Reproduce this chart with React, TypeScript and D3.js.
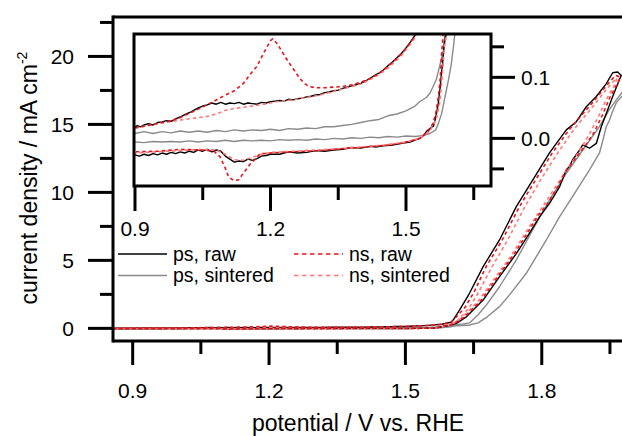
import React from "react";
import * as d3 from "d3";

type P = [number, number];

// ps, raw (black) – closed CV loop, potential (V vs RHE), current density (mA cm^-2)
const psRaw: P[] = [
  [0.857, 0.016], [0.87, 0.018], [0.88, 0.017], [0.89, 0.019], [0.9, 0.018], [0.905, 0.021], [0.912, 0.019],
  [0.92, 0.022], [0.93, 0.024], [0.94, 0.022], [0.95, 0.026], [0.96, 0.027], [0.97, 0.029], [0.98, 0.028],
  [0.99, 0.032], [1.0, 0.035], [1.01, 0.039], [1.02, 0.042], [1.03, 0.046], [1.04, 0.05], [1.05, 0.053],
  [1.06, 0.055], [1.07, 0.058], [1.08, 0.056], [1.09, 0.059], [1.1, 0.056], [1.11, 0.058], [1.12, 0.057],
  [1.13, 0.059], [1.14, 0.056], [1.15, 0.058], [1.16, 0.057], [1.17, 0.056], [1.18, 0.059], [1.19, 0.058],
  [1.2, 0.06], [1.21, 0.061], [1.22, 0.062], [1.23, 0.061], [1.24, 0.064], [1.25, 0.063], [1.26, 0.065],
  [1.27, 0.066], [1.28, 0.068], [1.29, 0.069], [1.3, 0.071], [1.31, 0.072], [1.32, 0.075], [1.33, 0.076],
  [1.34, 0.078], [1.35, 0.079], [1.36, 0.082], [1.37, 0.084], [1.38, 0.086], [1.39, 0.088], [1.4, 0.09],
  [1.41, 0.094], [1.42, 0.098], [1.43, 0.103], [1.44, 0.107], [1.45, 0.112], [1.46, 0.119], [1.47, 0.125],
  [1.48, 0.132], [1.49, 0.139], [1.5, 0.148], [1.51, 0.158], [1.52, 0.169], [1.53, 0.185], [1.55, 0.22],
  [1.58, 0.3], [1.6, 0.45], [1.605, 0.61], [1.62, 1.4], [1.641, 2.58], [1.671, 4.54], [1.707, 6.5],
  [1.744, 8.95], [1.78, 10.9], [1.817, 12.9], [1.854, 14.6], [1.876, 15.2], [1.898, 16.3], [1.92, 17.05],
  [1.942, 18.0], [1.956, 18.8], [1.967, 18.85], [1.975, 18.6], [1.971, 18.3], [1.956, 17.05], [1.942, 15.8],
  [1.931, 14.85], [1.92, 13.6], [1.905, 13.25], [1.89, 13.5], [1.883, 13.1], [1.868, 12.4], [1.861, 11.9],
  [1.854, 11.66], [1.839, 10.4], [1.817, 9.2], [1.795, 8.2], [1.773, 7.0], [1.744, 5.5], [1.707, 3.8],
  [1.671, 2.08], [1.634, 0.85], [1.612, 0.37], [1.595, 0.2], [1.585, 0.16], [1.582, 0.13], [1.579, 0.11],
  [1.575, 0.079], [1.571, 0.055], [1.566, 0.035], [1.561, 0.02], [1.553, 0.016], [1.546, 0.012], [1.538, 0.004],
  [1.531, 0.0], [1.52, -0.003], [1.509, -0.006], [1.49, -0.008], [1.47, -0.011], [1.45, -0.012], [1.435, -0.014],
  [1.42, -0.013], [1.4, -0.016], [1.38, -0.015], [1.36, -0.018], [1.34, -0.019], [1.32, -0.021], [1.3, -0.02],
  [1.28, -0.023], [1.26, -0.024], [1.24, -0.022], [1.22, -0.026], [1.2, -0.026], [1.19, -0.028], [1.18, -0.029],
  [1.17, -0.033], [1.16, -0.036], [1.15, -0.034], [1.14, -0.038], [1.13, -0.037], [1.12, -0.039], [1.11, -0.034],
  [1.1, -0.029], [1.09, -0.021], [1.08, -0.019], [1.07, -0.022], [1.06, -0.018], [1.05, -0.021], [1.04, -0.019],
  [1.03, -0.023], [1.02, -0.021], [1.01, -0.024], [1.0, -0.022], [0.99, -0.025], [0.98, -0.023], [0.97, -0.026],
  [0.96, -0.024], [0.95, -0.027], [0.94, -0.025], [0.93, -0.028], [0.92, -0.026], [0.91, -0.029], [0.9, -0.027],
  [0.89, -0.028], [0.87, -0.027], [0.857, -0.028],
];

// ps, sintered (grey)
const psSintered: P[] = [
  [0.857, 0.007], [0.88, 0.009], [0.9, 0.008], [0.92, 0.011], [0.94, 0.008], [0.96, 0.011], [0.98, 0.009],
  [1.0, 0.012], [1.02, 0.01], [1.04, 0.012], [1.06, 0.01], [1.08, 0.013], [1.1, 0.011], [1.12, 0.014],
  [1.14, 0.012], [1.16, 0.014], [1.18, 0.013], [1.2, 0.015], [1.22, 0.013], [1.24, 0.016], [1.26, 0.015],
  [1.28, 0.017], [1.3, 0.016], [1.32, 0.019], [1.34, 0.019], [1.36, 0.021], [1.38, 0.023], [1.4, 0.026],
  [1.42, 0.029], [1.44, 0.031], [1.46, 0.037], [1.48, 0.04], [1.5, 0.045], [1.52, 0.053], [1.53, 0.06],
  [1.545, 0.067], [1.553, 0.074], [1.56, 0.085], [1.567, 0.096], [1.575, 0.12], [1.583, 0.145], [1.59, 0.17],
  [1.6, 0.2], [1.615, 0.28], [1.627, 0.33], [1.641, 0.4], [1.66, 1.0], [1.68, 1.8], [1.707, 3.06],
  [1.744, 5.03], [1.78, 7.24], [1.817, 9.45], [1.854, 11.4], [1.89, 13.1], [1.927, 14.85], [1.949, 16.1],
  [1.964, 16.8], [1.98, 17.5], [1.99, 17.9], [1.995, 17.7], [1.985, 17.3], [1.976, 17.05], [1.964, 16.6],
  [1.955, 15.9], [1.949, 15.3], [1.942, 14.85], [1.935, 13.9], [1.927, 12.9], [1.905, 11.66], [1.868, 9.7],
  [1.839, 8.2], [1.81, 6.5], [1.766, 4.05], [1.73, 2.5], [1.707, 1.6], [1.68, 0.85], [1.66, 0.4],
  [1.641, 0.25], [1.625, 0.21], [1.612, 0.19], [1.608, 0.17], [1.605, 0.15], [1.6, 0.12], [1.594, 0.096],
  [1.587, 0.07], [1.579, 0.041], [1.572, 0.025], [1.566, 0.014], [1.553, 0.008], [1.54, 0.005], [1.52, 0.003],
  [1.5, 0.004], [1.48, 0.002], [1.46, 0.003], [1.44, 0.001], [1.42, 0.002], [1.4, 0.0], [1.38, 0.001],
  [1.36, -0.001], [1.34, 0.0], [1.32, -0.002], [1.3, -0.001], [1.28, -0.003], [1.26, -0.002], [1.24, -0.003],
  [1.22, -0.002], [1.2, -0.004], [1.18, -0.003], [1.16, -0.004], [1.14, -0.003], [1.12, -0.005], [1.1, -0.003],
  [1.08, -0.005], [1.06, -0.004], [1.04, -0.006], [1.02, -0.004], [1.0, -0.006], [0.98, -0.005], [0.96, -0.006],
  [0.94, -0.005], [0.92, -0.007], [0.9, -0.006], [0.857, -0.006],
];

// ns, raw (red dashed)
const nsRaw: P[] = [
  [0.857, 0.015], [0.9, 0.017], [0.92, 0.02], [0.94, 0.023], [0.96, 0.026], [0.98, 0.029], [1.0, 0.034],
  [1.02, 0.041], [1.04, 0.048], [1.06, 0.055], [1.08, 0.063], [1.1, 0.071], [1.12, 0.078], [1.14, 0.09],
  [1.155, 0.105], [1.17, 0.118], [1.185, 0.14], [1.2, 0.16], [1.205, 0.163], [1.215, 0.155], [1.228, 0.139],
  [1.24, 0.125], [1.254, 0.11], [1.265, 0.098], [1.275, 0.09], [1.285, 0.085], [1.3, 0.083], [1.32, 0.083],
  [1.34, 0.084], [1.36, 0.085], [1.38, 0.088], [1.4, 0.092], [1.42, 0.098], [1.44, 0.106], [1.46, 0.118],
  [1.48, 0.131], [1.5, 0.147], [1.52, 0.168], [1.54, 0.2], [1.57, 0.26], [1.6, 0.4], [1.63, 1.5],
  [1.65, 2.6], [1.677, 4.5], [1.713, 6.5], [1.75, 8.9], [1.786, 10.9], [1.823, 12.9], [1.86, 14.6],
  [1.904, 16.3], [1.946, 18.0], [1.962, 18.6], [1.972, 18.5], [1.968, 18.1], [1.95, 17.0], [1.935, 15.8],
  [1.915, 14.4], [1.895, 13.4], [1.87, 12.3], [1.85, 11.4], [1.835, 10.4], [1.813, 9.2], [1.79, 8.2],
  [1.768, 7.0], [1.74, 5.5], [1.703, 3.8], [1.667, 2.08], [1.63, 0.85], [1.608, 0.35], [1.59, 0.2],
  [1.582, 0.17], [1.579, 0.14], [1.576, 0.1], [1.572, 0.07], [1.567, 0.045], [1.56, 0.025], [1.55, 0.012],
  [1.53, 0.0], [1.51, -0.004], [1.49, -0.008], [1.46, -0.011], [1.43, -0.013], [1.4, -0.015], [1.37, -0.016],
  [1.34, -0.018], [1.31, -0.02], [1.28, -0.021], [1.25, -0.022], [1.22, -0.023], [1.2, -0.024], [1.185, -0.025],
  [1.177, -0.025], [1.165, -0.035], [1.155, -0.042], [1.14, -0.057], [1.129, -0.068], [1.118, -0.069],
  [1.107, -0.063], [1.099, -0.047], [1.088, -0.03], [1.075, -0.021], [1.05, -0.019], [1.0, -0.018],
  [0.95, -0.021], [0.9, -0.022], [0.857, -0.022],
];

// ns, sintered (light red dashed)
const nsSintered: P[] = [
  [0.857, 0.016], [0.9, 0.017], [0.95, 0.024], [1.0, 0.03], [1.03, 0.033], [1.06, 0.036], [1.08, 0.04],
  [1.1, 0.046], [1.12, 0.049], [1.14, 0.051], [1.16, 0.053], [1.18, 0.055], [1.2, 0.058], [1.22, 0.061],
  [1.25, 0.063], [1.28, 0.067], [1.31, 0.071], [1.34, 0.077], [1.37, 0.083], [1.4, 0.089], [1.43, 0.1],
  [1.46, 0.115], [1.49, 0.136], [1.52, 0.165], [1.55, 0.21], [1.58, 0.29], [1.61, 0.4], [1.64, 1.5],
  [1.66, 2.6], [1.69, 4.5], [1.725, 6.5], [1.762, 8.9], [1.797, 10.9], [1.835, 12.9], [1.87, 14.6],
  [1.912, 16.3], [1.95, 17.9], [1.965, 18.4], [1.962, 18.0], [1.943, 16.9], [1.925, 15.6], [1.905, 14.3],
  [1.882, 13.0], [1.86, 11.9], [1.83, 10.4], [1.807, 9.2], [1.783, 8.0], [1.76, 6.8], [1.732, 5.3],
  [1.697, 3.7], [1.66, 2.0], [1.625, 0.8], [1.603, 0.3], [1.59, 0.18], [1.585, 0.15], [1.58, 0.1],
  [1.575, 0.06], [1.568, 0.035], [1.56, 0.02], [1.55, 0.01], [1.53, 0.0], [1.5, -0.006], [1.45, -0.011],
  [1.4, -0.014], [1.35, -0.017], [1.3, -0.019], [1.25, -0.021], [1.2, -0.023], [1.18, -0.026], [1.16, -0.031],
  [1.14, -0.036], [1.12, -0.035], [1.1, -0.026], [1.08, -0.019], [1.05, -0.018], [1.0, -0.02], [0.95, -0.022],
  [0.9, -0.024], [0.857, -0.024],
];

const seriesNames = ["ps, raw", "ps, sintered", "ns, raw", "ns, sintered"];

const xMajorTicks = [0.9, 1.2, 1.5, 1.8];
const xMinorTicks = [1.05, 1.35, 1.65, 1.95];
const yMajorTicks = [0, 5, 10, 15, 20];
const yMinorTicks = [2.5, 7.5, 12.5, 17.5, 22.5];
const insetXMajor = [0.9, 1.2, 1.5];
const insetXMinor = [1.05, 1.35, 1.65];
const insetYMajor = [0.0, 0.1];
const insetYMinor = [-0.05, 0.05, 0.15];

const FONT = "'Liberation Sans', Arial, Helvetica, sans-serif";

export default function App() {
  const W = 622;
  const H = 436;
  const L = 113, R = 622, T = 17, B = 341;
  const x = d3.scaleLinear().domain([0.8567, 1.9765]).range([L, R]);
  const y = d3.scaleLinear().domain([-0.93, 22.9]).range([B, T]);

  const iL = 134, iR = 491, iT = 34, iB = 186;
  const ix = d3.scaleLinear().domain([0.8978, 1.6882]).range([iL, iR]);
  const iy = d3.scaleLinear().domain([-0.078, 0.171]).range([iB, iT]);

  const mainLine = d3.line<P>().x((d) => x(d[0])).y((d) => y(d[1]));
  const insetLine = d3.line<P>().x((d) => ix(d[0])).y((d) => iy(d[1]));

  const styles = [
    { data: psSintered, stroke: "#8a8a8a", dash: undefined as string | undefined, w: 1.4 },
    { data: psRaw, stroke: "#000000", dash: undefined as string | undefined, w: 1.4 },
    { data: nsSintered, stroke: "#ff7a7a", dash: "3.5,3", w: 1.6 },
    { data: nsRaw, stroke: "#e8141b", dash: "3.5,3", w: 1.6 },
  ];
  const legendStyles = [
    { stroke: "#000000", dash: undefined as string | undefined },
    { stroke: "#8a8a8a", dash: undefined as string | undefined },
    { stroke: "#e8141b", dash: "4.5,3.5" },
    { stroke: "#ff7a7a", dash: "4.5,3.5" },
  ];

  const fs = 21;

  return (
    <svg
      width={W}
      height={H}
      style={{ position: "absolute", left: 0, top: 0, background: "#fff" }}
      fontFamily={FONT}
    >
      <defs>
        <clipPath id="mainClip">
          <rect x={L} y={T} width={R - L + 20} height={B - T} />
        </clipPath>
        <clipPath id="insetClip">
          <rect x={iL} y={iT} width={iR - iL} height={iB - iT} />
        </clipPath>
      </defs>
      <rect x={0} y={0} width={W} height={H} fill="#fff" />

      {/* main data */}
      <g clipPath="url(#mainClip)">
        {styles.map((s, i) => (
          <path
            key={i}
            d={mainLine(s.data) || ""}
            fill="none"
            stroke={s.stroke}
            strokeWidth={s.w}
            strokeDasharray={s.dash}
            strokeLinejoin="round"
          />
        ))}
      </g>

      {/* main frame */}
      <g stroke="#000" strokeWidth={3} fill="none">
        <line x1={L} y1={T - 1.5} x2={L} y2={B + 1.5} />
        <line x1={L} y1={T} x2={R + 5} y2={T} />
        <line x1={L} y1={B} x2={R + 5} y2={B} />
      </g>

      {/* main ticks */}
      <g stroke="#000" strokeWidth={3}>
        {yMajorTicks.map((t) => (
          <line key={"ym" + t} x1={L - 25} x2={L} y1={y(t)} y2={y(t)} />
        ))}
        {yMinorTicks.map((t) => (
          <line key={"yn" + t} x1={L - 13} x2={L} y1={y(t)} y2={y(t)} />
        ))}
        {xMajorTicks.map((t) => (
          <line key={"xm" + t} x1={x(t)} x2={x(t)} y1={B} y2={B + 24} />
        ))}
        {xMinorTicks.map((t) => (
          <line key={"xn" + t} x1={x(t)} x2={x(t)} y1={B} y2={B + 13} />
        ))}
      </g>
      <g fontSize={fs} fill="#000">
        {yMajorTicks.map((t) => (
          <text key={"yl" + t} x={74} y={y(t)} dy="0.36em" textAnchor="end">
            {t}
          </text>
        ))}
        {xMajorTicks.map((t) => (
          <text key={"xl" + t} x={x(t)} y={398} textAnchor="middle">
            {t.toFixed(1)}
          </text>
        ))}
      </g>

      {/* axis titles */}
      <text x={358} y={431} fontSize={23} textAnchor="middle">
        potential / V vs. RHE
      </text>
      <text transform={`translate(37,${(T + B) / 2 - 1}) rotate(-90)`} fontSize={23} textAnchor="middle">
        current density / mA cm
        <tspan fontSize={14} dy={-10}>
          -2
        </tspan>
      </text>

      {/* legend */}
      <g fontSize={19.5}>
        {seriesNames.map((n, i) => {
          const col = i < 2 ? 0 : 1;
          const row = i % 2;
          const lx = col === 0 ? 118 : 294;
          const ly = 254 + row * 21.5;
          const st = legendStyles[i];
          return (
            <g key={n}>
              <line
                x1={lx}
                x2={lx + 49}
                y1={ly}
                y2={ly}
                stroke={st.stroke}
                strokeWidth={1.6}
                strokeDasharray={st.dash}
              />
              <text x={lx + 55} y={ly + 6.5}>
                {n}
              </text>
            </g>
          );
        })}
      </g>

      {/* inset */}
      <rect x={iL} y={iT} width={iR - iL} height={iB - iT} fill="#fff" />
      <g clipPath="url(#insetClip)">
        {styles.map((s, i) => (
          <path
            key={"in" + i}
            d={insetLine(s.data) || ""}
            fill="none"
            stroke={s.stroke}
            strokeWidth={s.w}
            strokeDasharray={s.dash}
            strokeLinejoin="round"
          />
        ))}
      </g>
      <rect x={iL} y={iT} width={iR - iL} height={iB - iT} fill="none" stroke="#000" strokeWidth={3} />
      <g stroke="#000" strokeWidth={3}>
        {insetXMajor.map((t) => (
          <line key={"ixm" + t} x1={ix(t)} x2={ix(t)} y1={iB} y2={iB + 25} />
        ))}
        {insetXMinor.map((t) => (
          <line key={"ixn" + t} x1={ix(t)} x2={ix(t)} y1={iB} y2={iB + 14} />
        ))}
        {insetYMajor.map((t) => (
          <line key={"iym" + t} x1={iR} x2={iR + 24} y1={iy(t)} y2={iy(t)} />
        ))}
        {insetYMinor.map((t) => (
          <line key={"iyn" + t} x1={iR} x2={iR + 13} y1={iy(t)} y2={iy(t)} />
        ))}
      </g>
      <g fontSize={fs} fill="#000">
        {insetXMajor.map((t) => (
          <text key={"ixl" + t} x={ix(t)} y={235.5} textAnchor="middle">
            {t.toFixed(1)}
          </text>
        ))}
        {insetYMajor.map((t) => (
          <text key={"iyl" + t} x={521} y={iy(t)} dy="0.36em" textAnchor="start">
            {t.toFixed(1)}
          </text>
        ))}
      </g>
    </svg>
  );
}
